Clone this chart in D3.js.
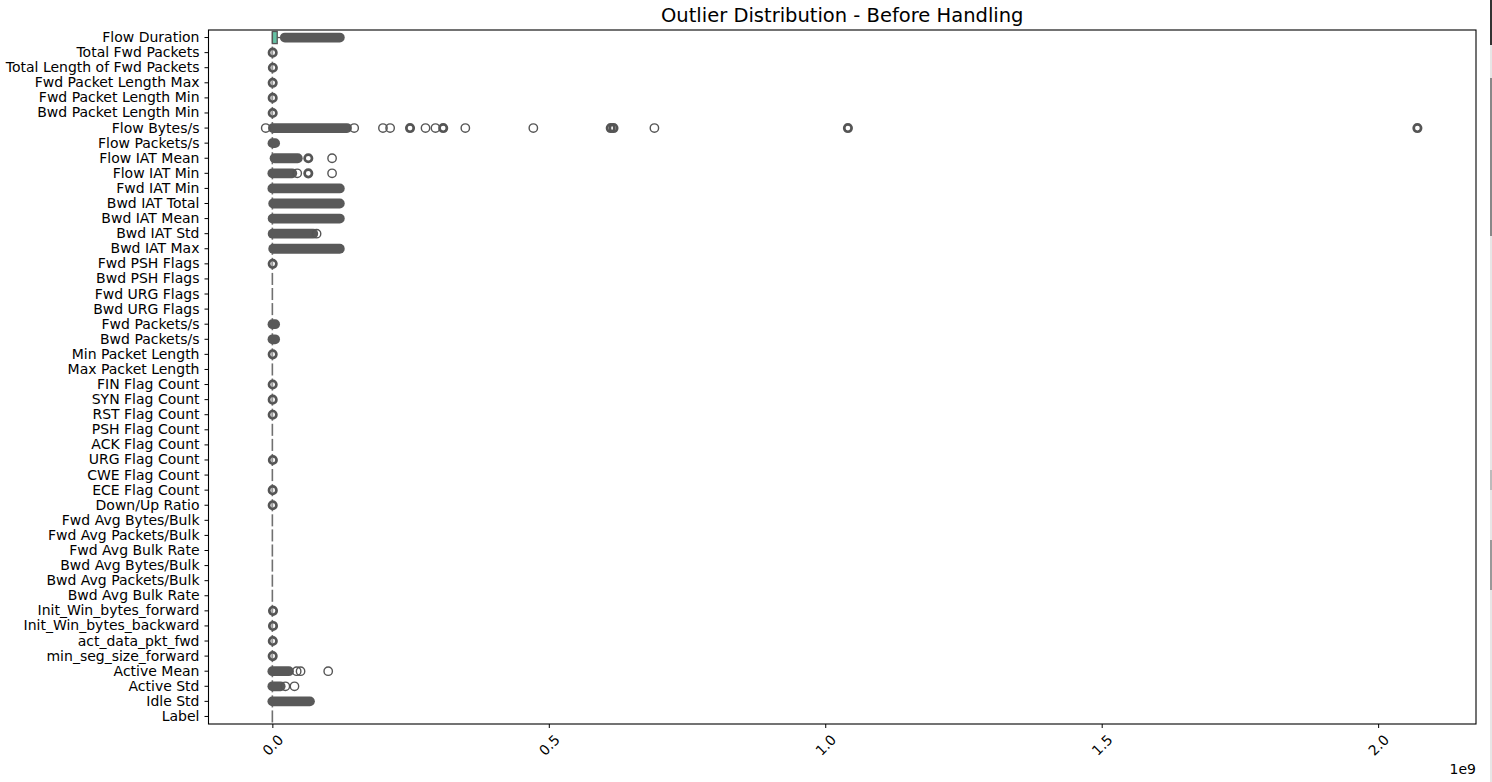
<!DOCTYPE html>
<html>
<head>
<meta charset="utf-8">
<script src="https://cdn.jsdelivr.net/npm/d3@7"></script>
<style>
  body { margin: 0; background: #fff; }
  svg { display: block; }
  text { font-family: "DejaVu Sans", sans-serif; fill: #000; }
</style>
</head>
<body>
<svg id="chart" width="1492" height="782"></svg>
<script>
// ---------------- DATA ----------------
const categories = [
  "Flow Duration", "Total Fwd Packets", "Total Length of Fwd Packets", "Fwd Packet Length Max",
  "Fwd Packet Length Min", "Bwd Packet Length Min", "Flow Bytes/s", "Flow Packets/s",
  "Flow IAT Mean", "Flow IAT Min", "Fwd IAT Min", "Bwd IAT Total", "Bwd IAT Mean",
  "Bwd IAT Std", "Bwd IAT Max", "Fwd PSH Flags", "Bwd PSH Flags", "Fwd URG Flags",
  "Bwd URG Flags", "Fwd Packets/s", "Bwd Packets/s", "Min Packet Length", "Max Packet Length",
  "FIN Flag Count", "SYN Flag Count", "RST Flag Count", "PSH Flag Count", "ACK Flag Count",
  "URG Flag Count", "CWE Flag Count", "ECE Flag Count", "Down/Up Ratio",
  "Fwd Avg Bytes/Bulk", "Fwd Avg Packets/Bulk", "Fwd Avg Bulk Rate", "Bwd Avg Bytes/Bulk",
  "Bwd Avg Packets/Bulk", "Bwd Avg Bulk Rate", "Init_Win_bytes_forward",
  "Init_Win_bytes_backward", "act_data_pkt_fwd", "min_seg_size_forward",
  "Active Mean", "Active Std", "Idle Std", "Label"
];

// box statistics (raw values)
const boxQ1   = new Array(46).fill(0);
const boxMed  = new Array(46).fill(0);
const boxQ3   = new Array(46).fill(0);
const whiskLo = new Array(46).fill(0);
const whiskHi = new Array(46).fill(0);
boxQ1[0] = 0; boxMed[0] = 50000; boxQ3[0] = 8800000; whiskLo[0] = 0; whiskHi[0] = 21500000;

// dense outlier ranges [category, low, high] (thousands of overlapping fliers)
const denseOutliers = [
  ["Flow Duration", 22500000, 122000000],
  ["Flow Bytes/s", 1000000, 135000000],
  ["Flow Packets/s", 200000, 5000000],
  ["Flow IAT Mean", 4000000, 46000000],
  ["Flow IAT Min", 0, 36000000],
  ["Fwd IAT Min", 0, 122000000],
  ["Bwd IAT Total", 1500000, 122000000],
  ["Bwd IAT Mean", 500000, 122000000],
  ["Bwd IAT Std", 500000, 74000000],
  ["Bwd IAT Max", 1500000, 122000000],
  ["Fwd Packets/s", 200000, 5000000],
  ["Bwd Packets/s", 200000, 5000000],
  ["Active Mean", 0, 30000000],
  ["Active Std", 0, 15000000],
  ["Idle Std", 0, 68000000]
];

// individual outliers [category, value, stacked (many fliers at the same spot)]
const sparseOutliers = [
  ["Total Fwd Packets", 600000, true],
  ["Total Length of Fwd Packets", 900000, true],
  ["Fwd Packet Length Max", 600000, true],
  ["Fwd Packet Length Min", 600000, true],
  ["Bwd Packet Length Min", 600000, true],
  ["Flow Bytes/s", -12000000, false], ["Flow Bytes/s", 148000000, false],
  ["Flow Bytes/s", 200000000, false], ["Flow Bytes/s", 213000000, false],
  ["Flow Bytes/s", 249000000, true],
  ["Flow Bytes/s", 277000000, false], ["Flow Bytes/s", 295000000, false],
  ["Flow Bytes/s", 309000000, true],
  ["Flow Bytes/s", 349000000, false], ["Flow Bytes/s", 472000000, false],
  ["Flow Bytes/s", 612000000, true], ["Flow Bytes/s", 617000000, true],
  ["Flow Bytes/s", 691000000, false],
  ["Flow Bytes/s", 1041000000, true],
  ["Flow Bytes/s", 2071000000, true],
  ["Flow IAT Mean", 65000000, true], ["Flow IAT Mean", 108000000, false],
  ["Flow IAT Min", 45000000, false], ["Flow IAT Min", 65000000, true],
  ["Flow IAT Min", 108000000, false],
  ["Bwd IAT Std", 80000000, false],
  ["Fwd PSH Flags", 600000, true],
  ["Min Packet Length", 600000, true],
  ["FIN Flag Count", 600000, true],
  ["SYN Flag Count", 600000, true],
  ["RST Flag Count", 600000, true],
  ["URG Flag Count", 900000, true],
  ["ECE Flag Count", 600000, true],
  ["Down/Up Ratio", 600000, true],
  ["Init_Win_bytes_forward", 1200000, true],
  ["Init_Win_bytes_backward", 1200000, true],
  ["act_data_pkt_fwd", 800000, true],
  ["min_seg_size_forward", 600000, true],
  ["Active Mean", 44000000, false], ["Active Mean", 51000000, false], ["Active Mean", 101000000, false],
  ["Active Std", 23500000, false], ["Active Std", 40000000, false]
];

const xTicks = [0, 0.5e9, 1.0e9, 1.5e9, 2.0e9];
const xTickLabels = ["0.0", "0.5", "1.0", "1.5", "2.0"];
const xDomain = [-0.1155e9, 2.177e9];
const set2 = ["#66c2a5", "#fc8d62", "#8da0cb", "#e78ac3", "#a6d854", "#ffd92f", "#e5c494", "#b3b3b3"];

// ---------------- LAYOUT ----------------
const svg = d3.select("#chart");
const L = 208.5, R = 1476, T = 30, B = 724;
const x = d3.scaleLinear().domain(xDomain).range([L, R]);
const y = d3.scaleBand().domain(categories).range([T, B]).padding(0);
const bw = y.bandwidth() * 0.8;
const cy = c => y(c) + y.bandwidth() / 2;
const grey = "#555555";
const rr = 4.2;

// title
svg.append("text").attr("x", (L + R) / 2).attr("y", 22).attr("text-anchor", "middle")
  .style("font-size", "19.5px").text("Outlier Distribution - Before Handling");

const g = svg.append("g");

// boxes
categories.forEach((c, i) => {
  const yc = cy(c);
  const x1 = x(boxQ1[i]), x3 = x(boxQ3[i]);
  const flat = (x3 - x1) < 0.5;
  g.append("line").attr("x1", x(whiskLo[i])).attr("x2", x1).attr("y1", yc).attr("y2", yc)
    .attr("stroke", grey).attr("stroke-width", 1.3);
  g.append("line").attr("x1", x3).attr("x2", x(whiskHi[i])).attr("y1", yc).attr("y2", yc)
    .attr("stroke", grey).attr("stroke-width", 1.3);
  g.append("rect").attr("x", x1).attr("y", yc - bw / 2)
    .attr("width", Math.max(0, x3 - x1)).attr("height", bw)
    .attr("fill", set2[i % set2.length]).attr("stroke", flat ? "#707070" : grey)
    .attr("stroke-width", flat ? 1.6 : 1.3);
  g.append("line").attr("x1", x(boxMed[i])).attr("x2", x(boxMed[i]))
    .attr("y1", yc - bw / 2).attr("y2", yc + bw / 2)
    .attr("stroke", flat ? "#707070" : grey).attr("stroke-width", flat ? 1.6 : 1.3);
});

// dense outlier bands
g.selectAll(".dense").data(denseOutliers).join("line")
  .attr("x1", d => x(d[1])).attr("x2", d => x(d[2]))
  .attr("y1", d => cy(d[0])).attr("y2", d => cy(d[0]))
  .attr("stroke", "#595959").attr("stroke-width", 2 * rr + 1.4)
  .attr("stroke-linecap", "round");

// individual outliers
g.selectAll(".flier").data(sparseOutliers).join("circle")
  .attr("cx", d => x(d[1])).attr("cy", d => cy(d[0]))
  .attr("r", d => d[2] ? 3.7 : rr)
  .attr("fill", "none").attr("stroke", grey)
  .attr("stroke-width", d => d[2] ? 2.7 : 1.4);

// re-draw the flat box lines on top of stacked fliers (light line through)
categories.forEach((c, i) => {
  const has = sparseOutliers.some(d => d[0] === c && d[2] && Math.abs(x(d[1]) - x(0)) < 3);
  if (has) {
    const yc = cy(c);
    g.append("line").attr("x1", x(boxMed[i])).attr("x2", x(boxMed[i]))
      .attr("y1", yc - 2.5).attr("y2", yc + 2.5)
      .attr("stroke", "#9a9a9a").attr("stroke-width", 1.2);
  }
});

// frame
svg.append("rect").attr("x", L).attr("y", T).attr("width", R - L).attr("height", B - T)
  .attr("fill", "none").attr("stroke", "#000").attr("stroke-width", 1.1);

// y axis
const yAxis = svg.append("g").attr("transform", `translate(${L},0)`)
  .call(d3.axisLeft(y).tickSize(4).tickPadding(5));
yAxis.select(".domain").remove();
yAxis.selectAll("text").style("font-size", "14px").style("font-family", "DejaVu Sans");
yAxis.selectAll("line").attr("stroke", "#000");

// x axis
const xAxis = svg.append("g").attr("transform", `translate(0,${B})`)
  .call(d3.axisBottom(x).tickValues(xTicks).tickFormat((d, i) => xTickLabels[i]).tickSize(4));
xAxis.select(".domain").remove();
xAxis.selectAll("line").attr("stroke", "#000");
xAxis.selectAll("text")
  .style("font-size", "14px").style("font-family", "DejaVu Sans")
  .attr("y", 0).attr("dy", 0)
  .attr("text-anchor", "middle").attr("dominant-baseline", "central")
  .attr("transform", "translate(0,21) rotate(-45)");

svg.append("text").attr("x", R).attr("y", 774).attr("text-anchor", "end")
  .style("font-size", "14px").text("1e9");

// right edge screenshot strip
const strip = svg.append("g");
strip.append("rect").attr("x", 1490).attr("y", 0).attr("width", 2).attr("height", 782).attr("fill", "#e6e6e6");
[[0, 45, "#333"], [78, 236, "#888"], [470, 490, "#bbb"], [540, 590, "#999"]].forEach(s => {
  strip.append("rect").attr("x", 1490).attr("y", s[0]).attr("width", 2).attr("height", s[1] - s[0]).attr("fill", s[2]);
});
</script>
</body>
</html>
